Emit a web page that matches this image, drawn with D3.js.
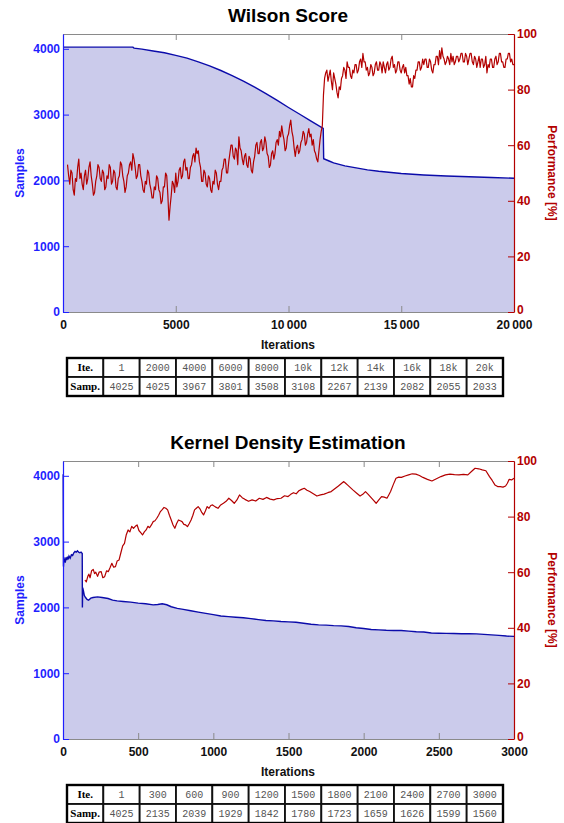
<!DOCTYPE html>
<html>
<head>
<meta charset="utf-8">
<script src="https://cdn.jsdelivr.net/npm/d3@7"></script>
<style>
body {margin:0; background:#fff;}
svg text {font-family:'Liberation Sans', Arial, sans-serif;}
</style>
</head>
<body>
<div id="chart"></div>
<script>
var wsTitle = 'Wilson Score'
var kdeTitle = 'Kernel Density Estimation'
var xAxisLabel = 'Iterations'
var yLeftLabel = 'Samples'
var yRightLabel = 'Performance [%]'

// Wilson score: [iteration, samples]
var wsSamples = [[0,4025],[3100,4025],[3150,4010],[3500,3995],[4000,3967],[4500,3940],[5000,3900],[5500,3858],[6000,3801],
  [6500,3740],[7000,3670],[7500,3594],[8000,3508],[8500,3416],[9000,3320],[9500,3216],[10000,3108],[10500,3005],
  [11000,2900],[11540,2790],[11560,2330],[11800,2295],[12000,2267],[12500,2220],[13000,2190],[13500,2160],[14000,2139],
  [15000,2105],[16000,2082],[17000,2066],[18000,2055],[19000,2045],[20000,2033]]

// Wilson score performance, every 50 iterations from 200
var wsPerfStart = 200
var wsPerfStep = 50
var wsPerf = [53,49,46,51,50,44,42,48,47,52,55,48,50,46,44,49,
  51,46,48,52,54,49,46,42,43,47,49,53,52,48,47,51,50,44,45,49,
  48,53,52,46,47,51,50,45,44,48,49,54,53,49,47,43,45,49,50,53,
  54,51,57,55,52,48,49,53,53,49,47,44,43,47,46,51,50,46,44,41,
  41,45,44,49,48,44,43,39,40,45,45,50,49,42,33,38,42,47,46,43,
  50,45,47,51,52,48,49,54,55,51,52,48,48,52,53,56,57,54,59,57,
  58,54,52,47,47,51,50,46,45,49,48,44,43,47,46,51,50,46,44,47,
  47,51,52,55,55,50,50,54,57,60,60,56,55,59,58,53,63,59,58,55,
  53,56,57,53,52,56,55,51,50,54,56,60,61,57,57,61,62,58,59,63,
  61,57,56,52,53,57,58,55,57,61,62,60,65,63,67,64,62,58,59,63,
  64,67,69,65,63,59,56,59,60,57,58,61,62,65,64,60,61,64,66,63,
  64,60,62,58,57,55,54,58,62,65,67,78,84,86,87,83,85,87,83,80,
  86,84,82,79,77,81,80,84,85,88,87,84,90,88,88,85,84,87,86,89,
  89,86,87,90,91,88,93,90,90,87,88,85,86,89,88,85,86,89,90,87,
  87,90,89,86,90,88,86,89,90,87,88,91,92,88,89,86,87,90,90,87,
  86,88,89,86,88,85,85,82,84,81,81,85,84,87,87,90,90,87,88,91,
  89,91,91,88,88,91,90,87,86,89,89,92,92,89,94,91,95,92,91,89,
  90,92,91,89,93,90,92,89,90,92,92,90,91,93,93,90,90,93,92,89,
  91,93,93,90,89,92,91,88,90,92,88,91,91,88,89,92,86,89,88,91,
  91,88,88,91,92,89,90,93,93,90,90,88,88,91,91,93,93,90,91,89,
  89]

// KDE: [iteration, samples]
var kdeSamples = [[1,4025],[3,2620],[6,2760],[9,2690],[12,2740],[15,2680],[20,2760],[25,2720],[30,2770],[35,2730],
  [40,2780],[48,2750],[56,2800],[64,2790],[72,2830],[80,2850],[88,2840],[96,2860],[104,2840],[112,2830],[120,2840],
  [128,2820],[129,2000],[131,2300],[136,2250],[142,2180],[150,2150],[160,2120],[170,2110],[185,2140],[200,2150],
  [230,2160],[260,2150],[300,2135],[330,2110],[360,2100],[400,2090],[450,2080],[500,2065],[550,2055],[600,2039],
  [630,2045],[660,2055],[690,2040],[720,2010],[760,1985],[800,1970],[850,1950],[900,1929],[950,1910],[1000,1890],
  [1050,1870],[1100,1860],[1150,1850],[1200,1842],[1250,1830],[1300,1815],[1350,1800],[1400,1795],[1450,1785],
  [1500,1780],[1550,1775],[1600,1760],[1650,1745],[1700,1735],[1750,1730],[1800,1723],[1850,1720],[1900,1710],
  [1950,1690],[2000,1680],[2050,1665],[2100,1659],[2150,1652],[2200,1650],[2250,1648],[2300,1640],[2350,1630],
  [2400,1626],[2450,1612],[2500,1608],[2550,1605],[2600,1603],[2650,1600],[2700,1599],[2750,1598],[2800,1590],
  [2850,1582],[2900,1575],[2950,1565],[3000,1560]]

// KDE: [iteration, performance %]
var kdePerf = [[146,57.2],[155,56.5],[165,58.5],[172,59.3],[180,58],[190,60.5],[201,61],[210,59.5],[218,60],[230,58.5],
  [240,60],[254,60.2],[265,58],[277,58.4],[290,60.5],[301,60.2],[312,61.5],[325,63.2],[337,61.8],[349,62],[360,64],
  [373,64.4],[385,67],[397,69.5],[409,70.4],[421,73.5],[433,75.2],[445,74.5],[457,76.5],[469,75.8],[481,76.5],
  [493,77],[505,75],[517,74.2],[529,73.4],[541,74.5],[553,75.2],[565,76.5],[576,76],[588,77],[600,78.2],[612,78.5],
  [624,79.4],[636,80.5],[648,81.8],[660,82.5],[672,83.3],[684,83],[696,82.4],[708,80.5],[720,78.8],[732,77],
  [744,75.8],[756,77.5],[768,78.8],[780,78.5],[792,78.2],[804,77.2],[816,77],[828,76.4],[840,77.5],[852,78.8],
  [864,80.5],[875,82.4],[887,83],[899,83.6],[911,82.8],[923,81.5],[935,80.6],[947,82],[959,83.6],[971,83],[983,84],
  [995,84.2],[1013,83.5],[1031,83],[1049,84.2],[1067,84.8],[1085,85.5],[1103,86.6],[1121,85.8],[1139,84.8],
  [1157,86],[1174,87.8],[1192,86.8],[1210,86.2],[1234,85.5],[1258,86],[1282,85.6],[1306,86.6],[1330,86.2],
  [1354,86.9],[1378,86.3],[1402,86],[1426,86.5],[1450,86.6],[1474,87.5],[1497,87.2],[1515,88],[1533,88.6],
  [1551,88.2],[1569,89.3],[1587,89.8],[1605,90.2],[1623,89.5],[1641,89],[1665,88.2],[1689,87.4],[1713,87.8],
  [1737,88.1],[1761,88.6],[1784,89],[1808,90],[1832,91],[1850,91.8],[1868,92.6],[1880,92],[1892,91.4],[1910,90.5],
  [1928,89.6],[1952,88.5],[1976,87.4],[1994,88],[2012,89],[2030,88],[2048,86.9],[2066,85.8],[2083,84.8],[2101,86],
  [2119,87.2],[2137,87],[2155,86.6],[2167,87.8],[2179,89],[2197,91.5],[2215,93.8],[2233,94.2],[2251,94.1],
  [2275,94.6],[2299,95],[2323,95.4],[2347,95.3],[2371,94.8],[2394,94.1],[2424,93.4],[2454,92.8],[2484,93.6],
  [2514,94.4],[2544,95],[2574,95.3],[2604,95.1],[2634,95],[2664,95.2],[2693,95],[2717,96.2],[2741,97.4],
  [2765,97.2],[2789,96.8],[2813,96.5],[2837,94.4],[2855,93],[2873,91.4],[2891,90.8],[2909,90.8],[2927,90.6],
  [2944,91],[2956,92],[2968,93.4],[2984,93.2],[3000,93.8]]

var wsXTicks = [0,5000,10000,15000,20000]
var kdeXTicks = [0,500,1000,1500,2000,2500,3000]
var sampTicks = [0,1000,2000,3000,4000]
var perfTicks = [0,20,40,60,80,100]

var wsTableIte = ['1','2000','4000','6000','8000','10k','12k','14k','16k','18k','20k']
var wsTableSamp = ['4025','4025','3967','3801','3508','3108','2267','2139','2082','2055','2033']
var kdeTableIte = ['1','300','600','900','1200','1500','1800','2100','2400','2700','3000']
var kdeTableSamp = ['4025','2135','2039','1929','1842','1780','1723','1659','1626','1599','1560']

var blueText = '#1f1fff', blueLine = '#0b0baa', fillCol = '#cbcbeb', redCol = '#b30000', frameCol = '#8a8a8a'
var svg = d3.select('#chart').append('svg').attr('width', 564).attr('height', 823)

function fmtX(d) {
    // mathematica style digit grouping for 5 digit numbers
    var s = String(d)
    if (s.length > 4) s = s.slice(0, s.length - 3) + '\u2009' + s.slice(-3)
    return s
}

function styleAxis(a, col, txtCol) {
    a.select('.domain').attr('stroke', col).attr('stroke-width', 1.2)
    a.selectAll('.tick line').attr('stroke', col).attr('stroke-width', 1)
    a.selectAll('text').attr('fill', txtCol).attr('font-size', 12).attr('font-weight', 'bold')
        .attr('font-family', "'Liberation Sans', Arial, sans-serif")
}

function drawPanel(p) {
    var left = 63, right = 514
    var top = p.top, bottom = p.top + 278
    var g = svg.append('g')

    var xScale = d3.scaleLinear().domain([0, p.xMax]).range([left, right])
    var ySamp = d3.scaleLinear().domain([0, 4225]).range([bottom, top])
    var yPerf = d3.scaleLinear().domain([0, 100]).range([bottom, top])

    g.append('text')
        .attr('x', 288).attr('y', top - 12)
        .attr('text-anchor', 'middle')
        .attr('font-size', 19).attr('font-weight', 'bold')
        .text(p.title)

    var area = d3.area()
        .x(function(d) {return xScale(d[0])})
        .y0(ySamp(0))
        .y1(function(d) {return ySamp(d[1])})
    g.append('path').datum(p.samples).attr('d', area).attr('fill', fillCol)

    var sampLine = d3.line()
        .x(function(d) {return xScale(d[0])})
        .y(function(d) {return ySamp(d[1])})
    g.append('path').datum(p.samples).attr('d', sampLine)
        .attr('fill', 'none').attr('stroke', blueLine).attr('stroke-width', 1.4)

    var perfLine = d3.line()
        .x(function(d) {return xScale(d[0])})
        .y(function(d) {return yPerf(d[1])})
    g.append('path').datum(p.perf).attr('d', perfLine)
        .attr('fill', 'none').attr('stroke', redCol).attr('stroke-width', 1.2).attr('stroke-linejoin', 'round')

    // minor ticks first
    var xMinor = d3.range(0, p.xMax + 1, p.xMinor).filter(function(v) {return p.xTicks.indexOf(v) < 0})
    var sMinor = d3.range(0, 4225, 200).filter(function(v) {return v % 1000 != 0})
    var pMinor = d3.range(0, 101, 5).filter(function(v) {return v % 20 != 0})

    var xb = g.append('g').attr('transform', 'translate(0,' + bottom + ')')
    xb.call(d3.axisBottom(xScale).tickValues(xMinor).tickSizeInner(-3.5).tickSizeOuter(0).tickFormat(''))
    xb.call(d3.axisBottom(xScale).tickValues(p.xTicks).tickSizeInner(-6).tickSizeOuter(0).tickPadding(8).tickFormat(fmtX))
    styleAxis(xb, frameCol, '#111')

    var xt = g.append('g').attr('transform', 'translate(0,' + top + ')')
    xt.call(d3.axisTop(xScale).tickValues(xMinor).tickSizeInner(-3.5).tickSizeOuter(0).tickFormat(''))
    xt.call(d3.axisTop(xScale).tickValues(p.xTicks).tickSizeInner(-6).tickSizeOuter(0).tickFormat(''))
    styleAxis(xt, frameCol, '#111')

    var yl = g.append('g').attr('transform', 'translate(' + left + ',0)')
    yl.call(d3.axisLeft(ySamp).tickValues(sMinor).tickSizeInner(-3.5).tickSizeOuter(0).tickFormat(''))
    yl.call(d3.axisLeft(ySamp).tickValues(sampTicks).tickSizeInner(-6).tickSizeOuter(0).tickPadding(3).tickFormat(d3.format('d')))
    styleAxis(yl, blueText, blueText)

    var yr = g.append('g').attr('transform', 'translate(' + right + ',0)')
    yr.call(d3.axisRight(yPerf).tickValues(pMinor).tickSizeInner(-3.5).tickSizeOuter(0).tickFormat(''))
    yr.call(d3.axisRight(yPerf).tickValues(perfTicks).tickSizeInner(-6).tickSizeOuter(0).tickPadding(3).tickFormat(d3.format('d')))
    styleAxis(yr, redCol, redCol)
    // bottom "0" sits just above the x labels, as in the original
    yr.selectAll('.tick text').filter(function(d) {return d == 0}).attr('dy', '0.15em')

    g.append('text')
        .attr('x', 288).attr('y', bottom + 36.5)
        .attr('text-anchor', 'middle')
        .attr('font-size', 12).attr('font-weight', 'bold').attr('fill', '#111')
        .text(xAxisLabel)

    g.append('text')
        .attr('transform', 'translate(24,' + ((top + bottom) / 2) + ') rotate(-90)')
        .attr('text-anchor', 'middle')
        .attr('font-size', 12).attr('font-weight', 'bold').attr('fill', blueText)
        .text(yLeftLabel)

    g.append('text')
        .attr('transform', 'translate(548,' + ((top + bottom) / 2) + ') rotate(90)')
        .attr('text-anchor', 'middle')
        .attr('font-size', 12).attr('font-weight', 'bold').attr('fill', redCol)
        .text(yRightLabel)

    drawTable(bottom + 46, p.tableIte, p.tableSamp)
}

function drawTable(y0, ite, samp) {
    var cols = ['Ite.'].concat(ite)
    var cols2 = ['Samp.'].concat(samp)
    var colX = d3.scaleBand().domain(d3.range(cols.length)).range([67, 503])
    var rowH = 19
    var t = svg.append('g')
    var rows = [cols, cols2]
    rows.forEach(function(r, ri) {
        var cells = t.selectAll('.cell' + ri).data(r).enter().append('g')
            .attr('transform', function(d, i) {return 'translate(' + colX(i) + ',' + (y0 + ri * rowH) + ')'})
        cells.append('rect')
            .attr('width', colX.bandwidth()).attr('height', rowH)
            .attr('fill', 'white').attr('stroke', '#111').attr('stroke-width', 1.8)
        cells.append('text')
            .attr('x', colX.bandwidth() / 2).attr('y', 13)
            .attr('text-anchor', 'middle')
            .attr('font-size', function(d, i) {return i == 0 ? 11 : 10})
            .attr('font-weight', function(d, i) {return i == 0 ? 'bold' : 'normal'})
            .attr('fill', function(d, i) {return i == 0 ? '#000' : '#555'})
            .style('font-family', function(d, i) {return i == 0 ? "'Liberation Serif', serif" : "'Liberation Mono', monospace"})
            .text(function(d) {return d})
    })
    t.append('rect')
        .attr('x', 67).attr('y', y0).attr('width', 436).attr('height', rowH * 2)
        .attr('fill', 'none').attr('stroke', '#000').attr('stroke-width', 2.4)
}

var wsPerfPts = wsPerf.map(function(v, i) {return [wsPerfStart + i * wsPerfStep, v]})

drawPanel({top: 34, title: wsTitle, xMax: 20000, xMinor: 1000, xTicks: wsXTicks,
    samples: wsSamples, perf: wsPerfPts, tableIte: wsTableIte, tableSamp: wsTableSamp})
drawPanel({top: 461, title: kdeTitle, xMax: 3000, xMinor: 100, xTicks: kdeXTicks,
    samples: kdeSamples, perf: kdePerf, tableIte: kdeTableIte, tableSamp: kdeTableSamp})
</script>
</body>
</html>
